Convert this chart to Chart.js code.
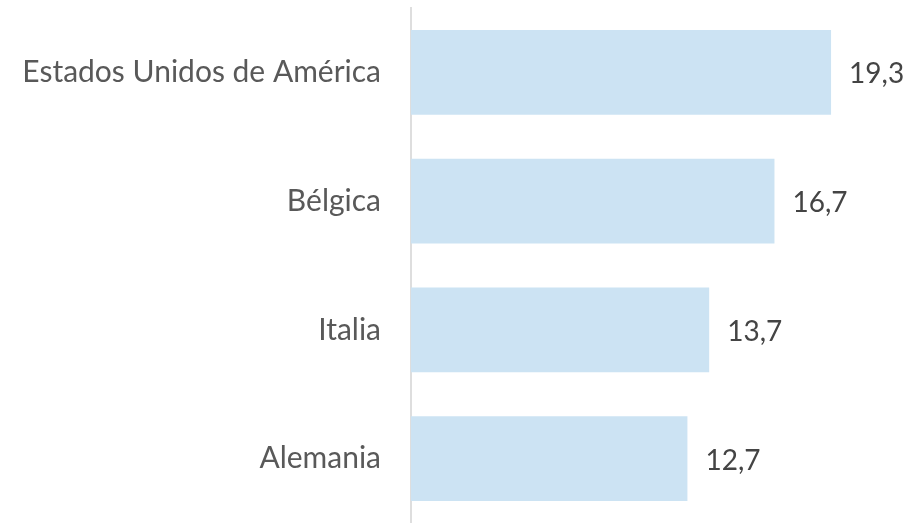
<!DOCTYPE html>
<html>
<head>
<meta charset="utf-8">
<script src="https://cdn.jsdelivr.net/npm/chart.js@4"></script>
<style>
  html, body { margin: 0; padding: 0; background: #fff; }
  #wrap { width: 924px; height: 523px; }
</style>
</head>
<body>
<div id="wrap"><canvas id="chart"></canvas></div>
<script>
const countries = ['Estados Unidos de América', 'Bélgica', 'Italia', 'Alemania'];
const values = [19.3, 16.7, 13.7, 12.7];

const fontFamily = 'Lato, "Open Sans", sans-serif';

// value labels to the right of each bar, comma decimals
const valueLabels = {
    id: 'valueLabels',
    afterDatasetsDraw(chart) {
        const ctx = chart.ctx;
        const meta = chart.getDatasetMeta(0);
        ctx.save();
        ctx.font = '28px ' + fontFamily;
        ctx.fillStyle = '#444';
        ctx.textAlign = 'left';
        ctx.textBaseline = 'middle';
        meta.data.forEach((bar, i) => {
            const txt = values[i].toLocaleString('es-ES', { minimumFractionDigits: 1 });
            ctx.fillText(txt, bar.x + 18, bar.y + 2);
        });
        ctx.restore();
    }
};

new Chart(document.getElementById('chart'), {
    type: 'bar',
    data: {
        labels: countries,
        datasets: [{
            data: values,
            backgroundColor: '#cce3f3',
            borderWidth: 0,
            barPercentage: 0.66,
            categoryPercentage: 1
        }]
    },
    options: {
        indexAxis: 'y',
        responsive: true,
        maintainAspectRatio: false,
        animation: false,
        layout: { padding: { top: 8, right: 0, bottom: -3, left: 0 } },
        plugins: { legend: { display: false }, tooltip: { enabled: false } },
        scales: {
            x: { display: false, min: 0, max: 23.57 },
            y: {
                afterFit(scale) {
                    scale.width = 411;
                    scale.paddingTop = 0;
                    scale.paddingBottom = 0;
                },
                grid: { display: false, drawTicks: false },
                border: { display: true, color: '#dedede', width: 2 },
                ticks: {
                    padding: 30,
                    color: '#595959',
                    font: { family: fontFamily, size: 30 }
                }
            }
        }
    },
    plugins: [valueLabels]
});
</script>
</body>
</html>
